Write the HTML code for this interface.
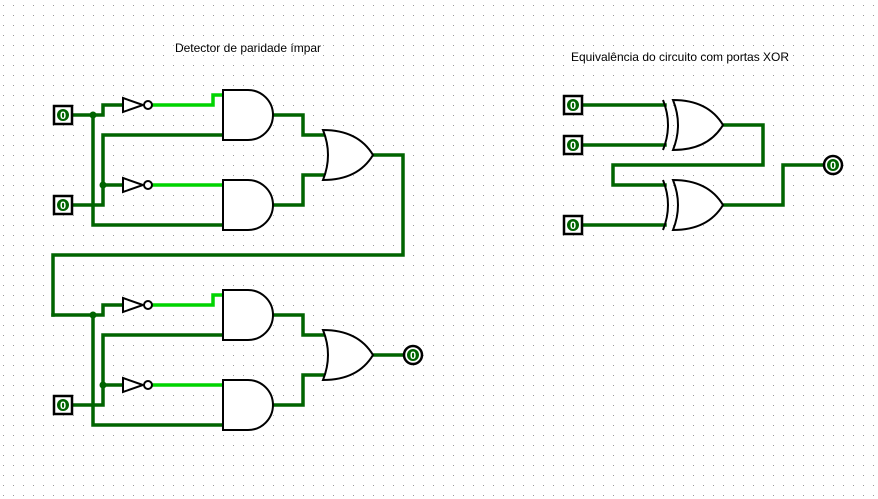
<!DOCTYPE html>
<html><head><meta charset="utf-8"><style>
html,body{margin:0;padding:0;background:#fff;}
svg{display:block;}
text{font-family:"Liberation Sans",sans-serif;}
</style></head><body>
<svg id="c" width="878" height="499" viewBox="0 0 878 499" xmlns="http://www.w3.org/2000/svg">
<path id="grid" fill="#9a9a9a" d=""/>
<text x="248" y="52" font-size="12" text-anchor="middle" fill="#000">Detector de paridade ímpar</text>
<text x="680" y="61" font-size="12" text-anchor="middle" fill="#000">Equivalência do circuito com portas XOR</text>
<g id="wires" fill="none" stroke="#006400" stroke-width="3.5" stroke-linejoin="miter" stroke-linecap="square"></g>
<g id="gates" fill="#fff" stroke="#000" stroke-width="2"></g>
<g id="io"></g>
</svg>
<script>
const NS='http://www.w3.org/2000/svg';
let gd='';
for(let x=3;x<878;x+=10)for(let y=5;y<499;y+=10)gd+=`M${x} ${y}h1v1h-1z`;
document.getElementById('grid').setAttribute('d',gd);
const W=document.getElementById('wires'),G=document.getElementById('gates'),IO=document.getElementById('io');
function mk(tag,attrs,parent){const e=document.createElementNS(NS,tag);for(const k in attrs)e.setAttribute(k,attrs[k]);parent.appendChild(e);return e;}
function wire(pts,light,name){
  const e=mk('polyline',{points:pts.map(p=>p.join(',')).join(' ')},W);
  if(light)e.setAttribute('stroke','#00d400');
  
  
}
function dot(x,y){const e=mk('circle',{cx:x,cy:y,r:3.5,fill:'#006400'},W);e.setAttribute('stroke','none');
  
  }
function andGate(x,y){const e=mk('path',{d:`M${x} ${y} H${x+25} A25 25 0 0 1 ${x+25} ${y+50} H${x} Z`},G);
  
  }
function orGate(x,y){const e=mk('path',{d:`M${x} ${y} Q${x+10} ${y+25} ${x} ${y+50} Q${x+35} ${y+50} ${x+50} ${y+25} Q${x+35} ${y} ${x} ${y} Z`},G);
  
  }
function xorGate(x,y){
  const e=mk('path',{d:`M${x+10} ${y} Q${x+20} ${y+25} ${x+10} ${y+50} Q${x+45} ${y+50} ${x+60} ${y+25} Q${x+45} ${y} ${x+10} ${y} Z`},G);
  
  
  const b=mk('path',{d:`M${x} ${y} Q${x+10} ${y+25} ${x} ${y+50}`,fill:'none'},G);
  
  
}
function notGate(x,y){
  const e=mk('polygon',{points:`${x},${y-7} ${x+20},${y} ${x},${y+7}`},G);
  
  
  const c=mk('circle',{cx:x+25,cy:y,r:4},G);
  
  
}
function input(cx,cy){
  const g=mk('g',{},IO);
  
  
  mk('rect',{x:cx-9,y:cy-9,width:18,height:18,fill:'#fff',stroke:'#000','stroke-width':2.5},g);
  mk('circle',{cx:cx,cy:cy,r:6,fill:'#006400'},g);
  const t=mk('text',{x:cx,y:cy+4,'font-size':11,'font-weight':'bold','text-anchor':'middle',fill:'#fff'},g);t.textContent='0';
}
function led(cx,cy){
  const g=mk('g',{},IO);
  
  
  mk('circle',{cx:cx,cy:cy,r:9,fill:'#fff',stroke:'#000','stroke-width':2.5},g);
  mk('circle',{cx:cx,cy:cy,r:6,fill:'#006400'},g);
  const t=mk('text',{x:cx,y:cy+4,'font-size':11,'font-weight':'bold','text-anchor':'middle',fill:'#fff'},g);t.textContent='0';
}
function block(o,firstFromWire){
  wire([[firstFromWire?53:73,115+o],[103,115+o],[103,105+o],[123,105+o]],false,'wire-a-to-not');
  wire([[153,105+o],[213,105+o],[213,95+o],[223,95+o]],true,'wire-not-a');
  wire([[93,115+o],[93,225+o],[223,225+o]],false,'wire-a-to-and2');
  wire([[73,205+o],[103,205+o],[103,135+o],[223,135+o]],false,'wire-b-to-and1');
  wire([[103,185+o],[123,185+o]],false,'wire-b-to-not');
  wire([[153,185+o],[223,185+o]],true,'wire-not-b');
  wire([[273,115+o],[303,115+o],[303,135+o],[326,135+o]],false,'wire-and1-to-or');
  wire([[273,205+o],[303,205+o],[303,175+o],[326,175+o]],false,'wire-and2-to-or');
  dot(93,115+o);dot(103,185+o);
  notGate(123,105+o);notGate(123,185+o);
  andGate(223,90+o);andGate(223,180+o);
  orGate(323,130+o);
}
block(0,false);
block(200,true);
wire([[373,155],[403,155],[403,255],[53,255],[53,315]],false,'wire-stage1-to-stage2');
wire([[373,355],[404,355]],false,'wire-to-output');
input(63,115);input(63,205);input(63,405);
led(413,355);
wire([[583,105],[665,105]],false,'wire-xor-in1');
wire([[583,145],[665,145]],false,'wire-xor-in2');
wire([[583,225],[665,225]],false,'wire-xor-in3');
wire([[723,125],[763,125],[763,165],[613,165],[613,185],[665,185]],false,'wire-xor1-to-xor2');
wire([[723,205],[783,205],[783,165],[824,165]],false,'wire-xor-out');
xorGate(663,100);xorGate(663,180);
input(573,105);input(573,145);input(573,225);
led(833,165);
</script>
</body></html>
